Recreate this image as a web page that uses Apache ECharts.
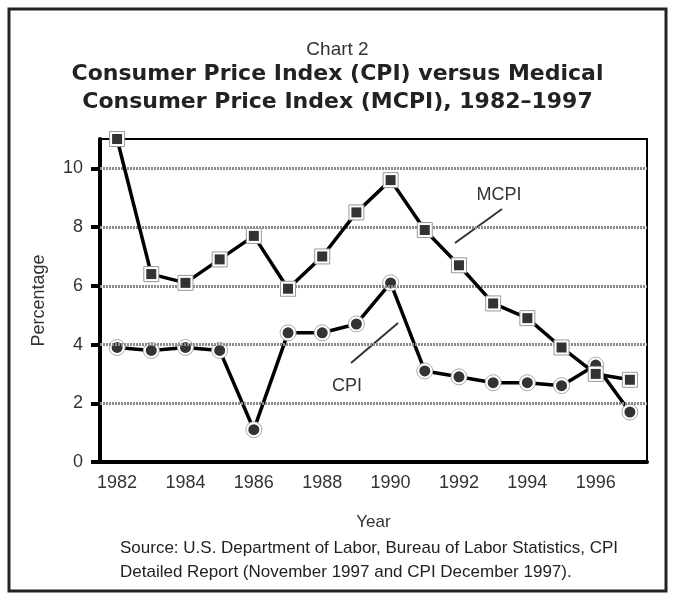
<!DOCTYPE html>
<html>
<head>
<meta charset="utf-8">
<script src="https://cdn.jsdelivr.net/npm/echarts@6/dist/echarts.min.js"></script>
<style>
html,body{margin:0;padding:0;background:#fff;}
#chart{width:675px;height:604px;}
</style>
</head>
<body>
<div id="chart"></div>
<script>
var years = ['1982','1983','1984','1985','1986','1987','1988','1989','1990','1991','1992','1993','1994','1995','1996','1997'];
var cpi  = [3.9, 3.8, 3.9, 3.8, 1.1, 4.4, 4.4, 4.7, 6.1, 3.1, 2.9, 2.7, 2.7, 2.6, 3.3, 1.7];
var mcpi = [11.0, 6.4, 6.1, 6.9, 7.7, 5.9, 7.0, 8.5, 9.6, 7.9, 6.7, 5.4, 4.9, 3.9, 3.0, 2.8];
var yTicks = [0, 2, 4, 6, 8, 10];

var FONT = '"Liberation Sans", Arial, sans-serif';
var chart = echarts.init(document.getElementById('chart'), null, {renderer: 'canvas'});

var option = {
  animation: false,
  backgroundColor: '#fff',
  title: [
    {text: 'Chart 2', left: 'center', top: 35,
     textStyle: {fontFamily: FONT, fontWeight: 'normal', fontSize: 19, color: '#333'}},
    {text: 'Consumer Price Index (CPI) versus Medical\nConsumer Price Index (MCPI), 1982\u20131997', left: 'center', top: 55,
     textStyle: {fontFamily: '"DejaVu Sans", sans-serif', fontWeight: 'bold', fontSize: 22, lineHeight: 28, color: '#222'}}
  ],
  grid: {left: 100, right: 28, top: 139, bottom: 142, show: true, borderColor: '#000', borderWidth: 2, backgroundColor: 'transparent'},
  xAxis: {
    type: 'category',
    data: years,
    boundaryGap: true,
    name: 'Year',
    nameLocation: 'middle',
    nameGap: 52,
    nameTextStyle: {fontFamily: FONT, fontSize: 17, color: '#333'},
    axisLine: {lineStyle: {color: '#000', width: 4}},
    axisTick: {interval: 0, length: 8, lineStyle: {color: '#000', width: 4}},
    axisLabel: {interval: 1, margin: 12, fontFamily: FONT, fontSize: 18, color: '#333'},
    splitLine: {show: false}
  },
  yAxis: {
    type: 'value',
    min: 0, max: 11, interval: 2,
    name: 'Percentage',
    nameLocation: 'middle',
    nameGap: 52,
    nameRotate: 90,
    nameTextStyle: {fontFamily: FONT, fontSize: 18, color: '#333'},
    axisLine: {show: true, lineStyle: {color: '#000', width: 4}},
    axisTick: {show: true, length: 9, customValues: yTicks, lineStyle: {color: '#000', width: 4}},
    axisLabel: {margin: 17, customValues: yTicks, fontFamily: FONT, fontSize: 18, color: '#333'},
    splitLine: {show: false}
  },
  series: [
    {
      name: 'grid', type: 'line', data: [], silent: true, z: 1,
      markLine: {
        silent: true, symbol: 'none', label: {show: false},
        lineStyle: {color: '#8a8a8a', width: 3, type: [2, 1]},
        data: yTicks.filter(function (v) { return v > 0; }).map(function (v) { return {yAxis: v}; })
      }
    },
    {
      name: 'CPI', type: 'line', data: cpi, z: 3,
      symbol: 'circle', symbolSize: 16, showSymbol: true,
      itemStyle: {color: '#fff', borderColor: '#aaa', borderWidth: 1},
      lineStyle: {color: '#000', width: 3.5}
    },
    {
      name: 'CPI dots', type: 'scatter', data: cpi, z: 4,
      symbol: 'circle', symbolSize: 11,
      itemStyle: {color: '#000'}
    },
    {
      name: 'MCPI', type: 'line', data: mcpi, z: 5,
      symbol: 'rect', symbolSize: 15, showSymbol: true,
      itemStyle: {color: '#fff', borderColor: '#999', borderWidth: 1},
      lineStyle: {color: '#000', width: 3.5}
    },
    {
      name: 'MCPI squares', type: 'scatter', data: mcpi, z: 6,
      symbol: 'rect', symbolSize: 10,
      itemStyle: {color: '#000'}
    }
  ],
  graphic: [
    {type: 'rect', shape: {x: 9, y: 9, width: 657, height: 582}, style: {fill: 'none', stroke: '#222', lineWidth: 3}, z: 0},
    {type: 'text', x: 499, y: 195, style: {text: 'MCPI', font: '18px ' + FONT, fill: '#333', textAlign: 'center', textVerticalAlign: 'middle'}},
    {type: 'line', shape: {x1: 455, y1: 243, x2: 502, y2: 209}, style: {stroke: '#333', lineWidth: 2}},
    {type: 'text', x: 347, y: 386, style: {text: 'CPI', font: '18px ' + FONT, fill: '#333', textAlign: 'center', textVerticalAlign: 'middle'}},
    {type: 'line', shape: {x1: 351, y1: 363, x2: 398, y2: 323}, style: {stroke: '#333', lineWidth: 2}},
    {type: 'text', x: 120, y: 548, style: {text: 'Source: U.S. Department of Labor, Bureau of Labor Statistics, CPI', font: '17px ' + FONT, fill: '#222', textAlign: 'left', textVerticalAlign: 'middle'}},
    {type: 'text', x: 120, y: 572, style: {text: 'Detailed Report (November 1997 and CPI December 1997).', font: '17px ' + FONT, fill: '#222', textAlign: 'left', textVerticalAlign: 'middle'}}
  ]
};
chart.setOption(option);
</script>
</body>
</html>
